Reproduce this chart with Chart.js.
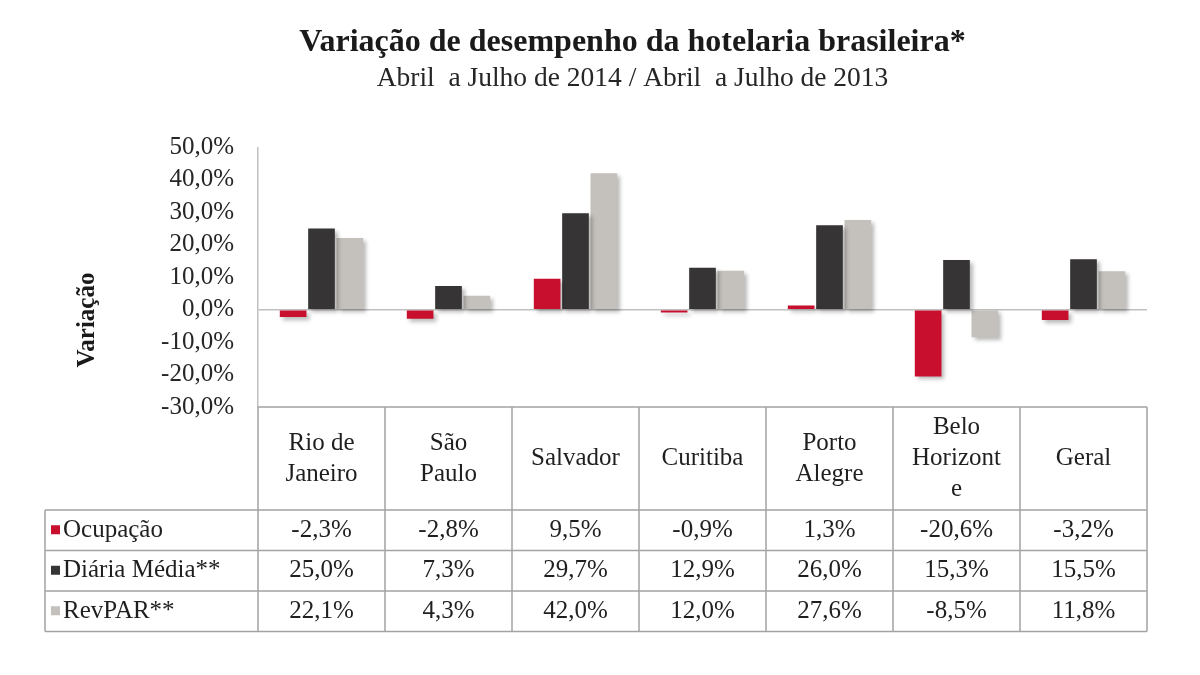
<!DOCTYPE html>
<html lang="pt-BR">
<head>
<meta charset="utf-8">
<title>Variação de desempenho da hotelaria brasileira</title>
<script src="https://cdn.jsdelivr.net/npm/chart.js@4.4.1/dist/chart.umd.min.js"></script>
<style>
  html, body { margin: 0; background: #fff; }
  #wrap { width: 1200px; height: 675px; }
</style>
</head>
<body>
<div id="wrap"><canvas id="myChart"></canvas></div>
<script>
const cities = [["Rio de", "Janeiro"], ["São", "Paulo"], ["Salvador"], ["Curitiba"], ["Porto", "Alegre"], ["Belo", "Horizont", "e"], ["Geral"]];
const seriesNames = ["Ocupação", "Diária Média**", "RevPAR**"];
const ocupacao = [-2.3, -2.8, 9.5, -0.9, 1.3, -20.6, -3.2];
const diariaMedia = [25.0, 7.3, 29.7, 12.9, 26.0, 15.3, 15.5];
const revpar = [22.1, 4.3, 42.0, 12.0, 27.6, -8.5, 11.8];
const yTicks = [50, 40, 30, 20, 10, 0, -10, -20, -30];
const colors = ["#c8102e", "#363434", "#c4c0bb"];

const serif = "'Liberation Serif', 'Times New Roman', serif";
const fmt = (v) => v.toFixed(1).replace(".", ",") + "%";
const seriesValues = [ocupacao, diariaMedia, revpar];

// soft drop shadow under the bars, like the original
const barShadow = {
  id: "barShadow",
  beforeDatasetsDraw(chart) {
    const ctx = chart.ctx;
    ctx.save();
    ctx.shadowColor = "rgba(0,0,0,0.28)";
    ctx.shadowOffsetX = 3;
    ctx.shadowOffsetY = 3;
    ctx.shadowBlur = 4;
  },
  afterDatasetsDraw(chart) {
    chart.ctx.restore();
  }
};

// data table under the plot + rotated axis title
const dataTable = {
  id: "dataTable",
  afterDraw(chart) {
    const { ctx, chartArea } = chart;
    const xs = chart.scales.x;
    const n = cities.length;
    const colW = xs.width / n;
    const top = chartArea.bottom;
    const headH = 103;
    const rowH = 40.5;
    const legendLeft = 45;
    const bottom = top + headH + seriesValues.length * rowH;

    ctx.save();
    ctx.strokeStyle = "#a3a3a3";
    ctx.lineWidth = 1.5;
    ctx.beginPath();
    ctx.moveTo(xs.left, top);
    ctx.lineTo(xs.right, top);
    for (let r = 0; r <= seriesValues.length; r++) {
      const y = top + headH + r * rowH;
      ctx.moveTo(legendLeft, y);
      ctx.lineTo(xs.right, y);
    }
    for (let i = 0; i <= n; i++) {
      const x = xs.left + i * colW;
      ctx.moveTo(x, top);
      ctx.lineTo(x, bottom);
    }
    ctx.moveTo(legendLeft, top + headH);
    ctx.lineTo(legendLeft, bottom);
    ctx.stroke();

    ctx.fillStyle = "#1f1f1f";
    ctx.font = "25px " + serif;
    ctx.textAlign = "center";
    ctx.textBaseline = "middle";
    const lineH = 31;
    cities.forEach((lines, i) => {
      const cx = xs.getPixelForValue(i);
      const y0 = top + headH / 2 - ((lines.length - 1) * lineH) / 2;
      lines.forEach((t, k) => ctx.fillText(t, cx, y0 + k * lineH));
    });

    seriesValues.forEach((vals, r) => {
      const cy = top + headH + r * rowH + rowH / 2;
      vals.forEach((v, i) => {
        ctx.fillText(fmt(v), xs.getPixelForValue(i), cy);
      });
    });

    ctx.textAlign = "left";
    seriesNames.forEach((name, r) => {
      const cy = top + headH + r * rowH + rowH / 2;
      ctx.fillStyle = colors[r];
      ctx.fillRect(legendLeft + 6, cy - 5, 9, 9);
      ctx.fillStyle = "#1f1f1f";
      ctx.fillText(name, legendLeft + 18, cy);
    });

    ctx.translate(88, 320);
    ctx.rotate(-Math.PI / 2);
    ctx.textAlign = "center";
    ctx.font = "bold 25px " + serif;
    ctx.fillStyle = "#1a1a1a";
    ctx.fillText("Variação", 0, 0);
    ctx.restore();
  }
};

new Chart(document.getElementById("myChart"), {
  type: "bar",
  data: {
    labels: cities,
    datasets: seriesNames.map((name, i) => ({
      label: name,
      data: seriesValues[i],
      backgroundColor: colors[i],
      borderWidth: 0,
      categoryPercentage: 0.67,
      barPercentage: 0.94
    }))
  },
  options: {
    responsive: true,
    maintainAspectRatio: false,
    animation: false,
    layout: { padding: { left: 118, right: 53, top: 0, bottom: 268 } },
    plugins: {
      legend: { display: false },
      tooltip: { enabled: false },
      title: {
        display: true,
        text: "Variação de desempenho da hotelaria brasileira*",
        color: "#1a1a1a",
        font: { family: serif, size: 32, weight: "bold" },
        padding: { top: 24, bottom: 0 }
      },
      subtitle: {
        display: true,
        text: "Abril  a Julho de 2014 / Abril  a Julho de 2013",
        color: "#262626",
        font: { family: serif, size: 27.5 },
        padding: { top: 0, bottom: 52 }
      }
    },
    scales: {
      x: {
        display: false,
        grid: { display: false }
      },
      y: {
        min: Math.min(...yTicks),
        max: Math.max(...yTicks),
        afterFit(scale) { scale.width = 140; },
        ticks: {
          stepSize: 10,
          autoSkip: false,
          padding: 24,
          color: "#262626",
          font: { family: serif, size: 25 },
          callback: (v) => fmt(v)
        },
        grid: {
          drawTicks: false,
          color: (c) => (c.tick && c.tick.value === 0 ? "#c0c0c0" : "transparent"),
          lineWidth: 1.5
        },
        border: { display: true, color: "#c0c0c0", width: 1.5 }
      }
    }
  },
  plugins: [barShadow, dataTable]
});
</script>
</body>
</html>
